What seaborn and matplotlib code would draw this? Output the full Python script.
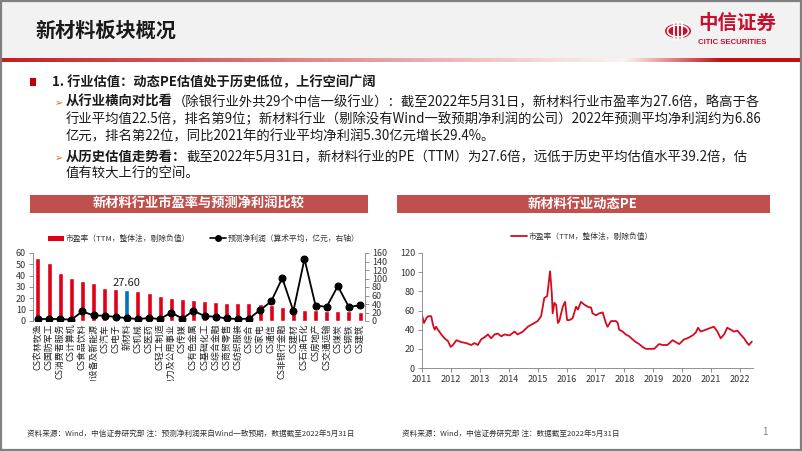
import numpy as np
import pandas as pd
import matplotlib
matplotlib.use("Agg")
import matplotlib.pyplot as plt
import seaborn as sns
from matplotlib.patches import Rectangle, Circle, Patch
from matplotlib.lines import Line2D
from matplotlib.transforms import Bbox, TransformedBbox

# ---------------- data ----------------
industries = ["CS农林牧渔", "CS国防军工", "CS消费者服务", "CS计算机", "CS食品饮料",
              "CS电力设备及新能源", "CS汽车", "CS电子", "新材料", "CS机械", "CS医药",
              "CS轻工制造", "CS电力及公用事业", "CS传媒", "CS有色金属", "CS基础化工",
              "CS综合金融", "CS商贸零售", "CS纺织服装", "CS综合", "CS家电", "CS通信",
              "CS非银行金融", "CS建材", "CS石油石化", "CS房地产", "CS交通运输",
              "CS煤炭", "CS钢铁", "CS建筑"]
pe_ttm = [56.0, 51.5, 42.7, 38.0, 35.6, 33.3, 29.1, 28.0, 27.6, 26.5, 24.7,
          22.0, 20.3, 19.4, 18.3, 17.4, 17.1, 16.2, 16.0, 15.7, 15.3, 14.1,
          12.1, 10.3, 10.0, 9.7, 9.1, 9.1, 8.7, 8.2]
profit = [4.7, 4.7, 4.7, 3.0, 22.6, 13.0, 12.5, 9.4, 6.86, 4.7, 7.0,
          4.7, 20.0, 5.5, 24.0, 11.7, 10.0, 6.0, 4.7, 5.5, 25.7, 46.0,
          101.0, 23.4, 146.0, 36.0, 33.5, 82.0, 33.0, 37.0]
highlight = "新材料"
left_yticks = [0, 10, 20, 30, 40, 50, 60]
right_yticks = [0, 20, 40, 60, 80, 100, 120, 140, 160]

hist_t = [2011.00, 2011.07, 2011.15, 2011.21, 2011.32, 2011.38, 2011.44, 2011.49,
          2011.55, 2011.67, 2011.78, 2011.90, 2011.99, 2012.07, 2012.19, 2012.36,
          2012.53, 2012.70, 2012.82, 2012.93, 2013.05, 2013.16, 2013.28, 2013.39,
          2013.51, 2013.62, 2013.74, 2013.85, 2014.03, 2014.20, 2014.31, 2014.49,
          2014.66, 2014.77, 2014.89, 2015.00, 2015.12, 2015.23, 2015.33, 2015.43,
          2015.49, 2015.52, 2015.58, 2015.64, 2015.70, 2015.75, 2015.87, 2015.95,
          2016.02, 2016.10, 2016.21, 2016.33, 2016.39, 2016.50, 2016.62, 2016.73,
          2016.85, 2016.90, 2017.02, 2017.13, 2017.25, 2017.36, 2017.42, 2017.54,
          2017.71, 2017.77, 2017.82, 2017.94, 2018.05, 2018.17, 2018.28, 2018.40,
          2018.51, 2018.63, 2018.74, 2018.86, 2019.03, 2019.20, 2019.32, 2019.49,
          2019.67, 2019.78, 2019.90, 2020.07, 2020.18, 2020.36, 2020.47, 2020.55,
          2020.64, 2020.82, 2020.99, 2021.10, 2021.22, 2021.33, 2021.45, 2021.56,
          2021.68, 2021.79, 2021.91, 2022.02, 2022.14, 2022.25, 2022.31, 2022.41]
hist_pe = [55, 47, 52, 54, 54, 45, 40, 43,
           40, 35, 31, 28, 22, 24, 29, 27,
           26, 24, 26, 24, 30, 32, 35, 31,
           35, 36, 33, 35, 34, 38, 35, 38,
           43, 45, 47, 49, 54, 73, 75, 101,
           78, 57, 68, 66, 47, 49, 64, 69,
           50, 50, 52, 64, 61, 69, 66, 64,
           63, 57, 55, 57, 58, 47, 43, 49,
           49, 47, 40, 38, 35, 33, 30, 27,
           25, 22, 20, 20, 20, 25, 24, 24,
           29, 27, 25, 30, 31, 34, 37, 42,
           38, 40, 42, 43, 38, 31, 35, 42,
           40, 38, 39, 35, 31, 26, 24, 27.6]
years = list(range(2011, 2023))
hist_yticks = [0, 20, 40, 60, 80, 100, 120]

# ---------------- setup ----------------
sns.set_theme(style="white")
plt.rcParams["font.family"] = ["Noto Sans CJK SC", "DejaVu Sans"]
plt.rcParams["axes.unicode_minus"] = False

W, H = 802, 451
fig = plt.figure(figsize=(W / 100, H / 100), dpi=100)
fig.patch.set_facecolor("white")


def fx(x):
    return x / W


def fy(y):
    return 1 - y / H


def rect(x0, y0, x1, y1, **kw):
    r = Rectangle((fx(x0), fy(y1)), (x1 - x0) / W, (y1 - y0) / H,
                  transform=fig.transFigure, **kw)
    fig.add_artist(r)
    return r


def txt(x, y, s, **kw):
    return fig.text(fx(x), fy(y), s, **kw)


RED_BAR = "#c0504d"
TXT = "#1a1a1a"

# header
rect(0, 0, W, 58, facecolor="#f2f2f2", edgecolor="none")
txt(35, 30, "新材料板块概况", fontsize=14.5, fontweight="bold", va="center", color=TXT)

# gradient divider line
gax = fig.add_axes([0, fy(62), 1, 4 / H])
gax.axis("off")
xs = np.linspace(0, 1, 400)
alpha = np.where(xs < 0.78, 0.95 - 0.9 * (xs / 0.78), 0.05 + 0.95 * np.clip((xs - 0.78) / 0.12, 0, 1))
grad = np.zeros((1, 400, 4))
grad[..., 0] = 0.76
grad[..., 1] = 0.06
grad[..., 2] = 0.08
grad[..., 3] = alpha
gax.imshow(grad, aspect="auto", extent=[0, 1, 0, 1])
gax.set_xlim(0, 1)

# logo
logo_red = "#c8102e"
fig.add_artist(Circle((fx(678), fy(31)), 13 / W, transform=fig.transFigure,
                      facecolor=logo_red, edgecolor="none"))
fig.add_artist(Circle((fx(678), fy(31)), 10.5 / W, transform=fig.transFigure,
                      facecolor="none", edgecolor="white", linewidth=1.2))
for dx in (-4, 0, 4):
    fig.add_artist(Line2D([fx(678 + dx), fx(678 + dx)], [fy(22), fy(40)],
                          transform=fig.transFigure, color="white", linewidth=1.3))
txt(698, 23, "中信证券", fontsize=14, fontweight="bold", va="center", color=logo_red)
txt(698, 42, "CITIC SECURITIES", fontsize=5.6, fontweight="bold", va="center",
    color=logo_red, family=["Liberation Sans", "DejaVu Sans"])

renderer = fig.canvas.get_renderer()


def rich(x, y, parts, size):
    cx = x
    for s, bold in parts:
        t = txt(cx, y, s, fontsize=size, fontweight="bold" if bold else "normal",
                va="center", ha="left", color=TXT)
        cx += t.get_window_extent(renderer).width


# bullet text
rect(30, 78, 36, 86, facecolor="#c00000", edgecolor="none")
rich(52, 82, [("1. 行业估值：动态PE估值处于历史低位，上行空间广阔", True)], 9.5)
arrow_kw = dict(fontsize=7, va="center", color="#e36c0a", family=["DejaVu Sans"])
txt(55, 103, "➢", **arrow_kw)
rich(66, 102, [("从行业横向对比看", True),
               ("（除银行业外共29个中信一级行业）：截至2022年5月31日，新材料行业市盈率为27.6倍，略高于各", False)], 9.6)
rich(66, 119, [("行业平均值22.5倍，排名第9位；新材料行业（剔除没有Wind一致预期净利润的公司）2022年预测平均净利润约为6.86", False)], 9.6)
rich(66, 136, [("亿元，排名第22位，同比2021年的行业平均净利润5.30亿元增长29.4%。", False)], 9.6)
txt(55, 158, "➢", **arrow_kw)
rich(66, 157, [("从历史估值走势看：", True),
               ("截至2022年5月31日，新材料行业的PE（TTM）为27.6倍，远低于历史平均估值水平39.2倍，估", False)], 9.6)
rich(66, 174, [("值有较大上行的空间。", False)], 9.6)

# chart title bars
rect(30, 195, 368, 213, facecolor=RED_BAR, edgecolor="none")
txt(199, 204, "新材料行业市盈率与预测净利润比较", fontsize=9.5, fontweight="bold",
    color="white", ha="center", va="center")
rect(397, 195, 770, 213, facecolor=RED_BAR, edgecolor="none")
txt(583, 204, "新材料行业动态PE", fontsize=9.5, fontweight="bold",
    color="white", ha="center", va="center")

# ---------------- left chart ----------------
bar_red = "#e00018"
bar_blue = "#0070c0"
ax1 = fig.add_axes([fx(33), fy(321), (365 - 33) / W, (321 - 253) / H])
pos = np.arange(len(industries))
df = pd.DataFrame({"pos": pos, "ind": industries, "pe": pe_ttm})
pal = {k: (bar_blue if k == highlight else bar_red) for k in industries}
sns.barplot(data=df, x="pos", y="pe", hue="ind", palette=pal, legend=False,
            dodge=False, width=0.45, saturation=1, ax=ax1)
ax1.set_xlim(-0.45, len(industries) - 0.55)
ax1.set_ylim(0, 60)
ax1.set_yticks(left_yticks)
ax1.set_xticks(pos)
ax1.set_xticklabels(industries, rotation=90, fontsize=6.4, color="#222222")
ax1.set_xlabel("")
ax1.set_ylabel("")
hi = industries.index(highlight)
ax1.text(hi, pe_ttm[hi] + 1.2, f"{pe_ttm[hi]:.2f}", ha="center", va="bottom",
         fontsize=8, color="#222222")

ax1b = ax1.twinx()
sns.lineplot(x=pos, y=profit, ax=ax1b, color="black", marker="o", markersize=5,
             markeredgecolor="black", linewidth=1.3)
ax1b.set_ylim(0, 160)
ax1b.set_yticks(right_yticks)
ax1b.set_ylabel("")

for a in (ax1, ax1b):
    a.set_facecolor("none")
    for s in a.spines.values():
        s.set_visible(False)
    a.tick_params(axis="y", labelsize=6.5, labelcolor="#333333", length=3,
                  width=0.6, color="#808080", pad=2)
    a.tick_params(axis="x", length=0, pad=2)
ax1.spines["left"].set_visible(True)
ax1.spines["left"].set_color("#808080")
ax1.spines["left"].set_linewidth(0.6)
ax1b.spines["right"].set_visible(True)
ax1b.spines["right"].set_color("#808080")
ax1b.spines["right"].set_linewidth(0.6)

clipbox = TransformedBbox(Bbox([[fx(25), fy(381)], [fx(380), fy(321)]]), fig.transFigure)
for lab in ax1.get_xticklabels():
    lab.set_clip_box(clipbox)
    lab.set_clip_on(True)

h1 = [Patch(facecolor=bar_red, edgecolor="none"),
      Line2D([], [], color="black", marker="o", markersize=4, linewidth=1.2)]
fig.legend(h1, ["市盈率（TTM，整体法，剔除负值）", "预测净利润（算术平均，亿元，右轴）"],
           loc="center", bbox_to_anchor=(fx(204), fy(239)), ncol=2, frameon=False,
           fontsize=5.6, handlelength=2.0, handleheight=0.6, columnspacing=2.6,
           handletextpad=0.25, labelcolor="#333333")

# ---------------- right chart ----------------
ax2 = fig.add_axes([fx(422), fy(368), (753 - 422) / W, (368 - 253) / H])
sns.lineplot(x=hist_t, y=hist_pe, ax=ax2, color="#d40b1f", linewidth=1.3)
ax2.set_xlim(2011, 2022.45)
ax2.set_ylim(0, 120)
ax2.set_xticks(years)
ax2.set_xticklabels([str(y) for y in years])
ax2.set_yticks(hist_yticks)
ax2.set_facecolor("none")
for s in ("top", "right"):
    ax2.spines[s].set_visible(False)
for s in ("left", "bottom"):
    ax2.spines[s].set_color("#808080")
    ax2.spines[s].set_linewidth(0.6)
ax2.tick_params(labelsize=6.5, labelcolor="#333333", length=3, width=0.6,
                color="#808080", pad=2, bottom=True, left=True)

fig.legend([Line2D([], [], color="#d40b1f", linewidth=1.3)],
           ["市盈率（TTM，整体法，剔除负值）"], loc="center",
           bbox_to_anchor=(fx(582), fy(237)), frameon=False, fontsize=5.6,
           handlelength=2.0, handletextpad=0.25, labelcolor="#333333")

# footnotes
txt(27, 434, "资料来源：Wind，中信证券研究部 注：预测净利润来自Wind一致预期，数据截至2022年5月31日",
    fontsize=5.5, va="center", color="#333333")
txt(402, 434, "资料来源：Wind，中信证券研究部 注：数据截至2022年5月31日",
    fontsize=5.5, va="center", color="#333333")
txt(762, 432, "1", fontsize=7, va="center", color="#7f7f7f")

# slide border
rect(0.8, 0.8, W - 0.8, H - 0.8, facecolor="none", edgecolor="#808080", linewidth=1.6)

fig.savefig("out.png", dpi=100)
